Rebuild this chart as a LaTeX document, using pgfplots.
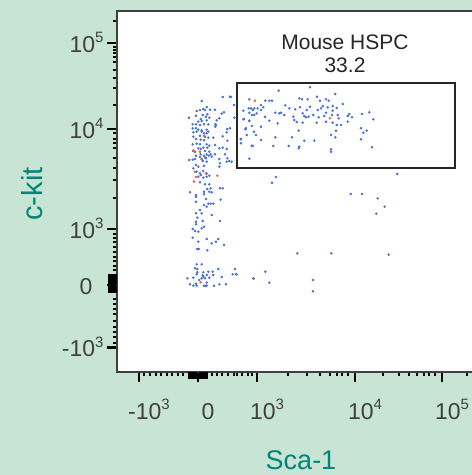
\documentclass[border=0pt]{standalone}
\usepackage{fontspec}
\setmainfont{Liberation Sans}
\usepackage{pgfplots}
\pgfplotsset{compat=1.18}
\definecolor{bg}{RGB}{200,228,212}
\definecolor{teal2}{RGB}{0,133,120}
\definecolor{tk}{RGB}{64,64,64}
\definecolor{dotb}{RGB}{70,115,215}
\definecolor{dotr}{RGB}{230,95,75}
\newcommand\tl[1]{\mbox{\fontsize{23}{23}\selectfont #1}}
\newcommand\tp[1]{10\raisebox{9.5pt}{\fontsize{15}{15}\selectfont #1}}
\begin{document}
\begin{tikzpicture}
\begin{axis}[
 x=1pt, y=1pt, y dir=reverse, disabledatascaling, anchor=origin, at={(0,0)},
 xmin=117, xmax=490, ymin=11, ymax=372,
 clip=false, axis on top,
 axis line style={draw=tk, line width=2.5pt},
 xtick pos=left, ytick pos=left, tick align=outside,
 major tick length=10pt, minor tick length=4pt,
 every major tick/.append style={black, line width=2.5pt},
 every minor tick/.append style={black, line width=1.3pt},
 xtick={139,198,257,355,442},
 xticklabels={\tl{-\tp{3}},\tl{0},\tl{\tp{3}},\tl{\tp{4}},\tl{\tp{5}}},
 minor xtick={144,150,156,161,167,172,178,183,212,217,222,228,234,237,242,248,252,288,307,320,330,337,342,348,383,399,409,417,424,429,435,467},
 extra x ticks={189,190.5,192,193.5,195,196.5,199.5,201,202.5,204,205.5,207},
 extra x tick labels={},
 extra x tick style={major tick length=7pt, every major tick/.append style={line width=1.1pt}},
 ytick={43,129,229,285,347.5},
 yticklabels={\tl{\tp{5}},\tl{\tp{4}},\tl{\tp{3}},\tl{0\hspace*{11pt}},\tl{-\tp{3}}},
 minor ytick={21,47,50,53,57,62,70,78,88,105,133,139,143,148,158,168,180,198,234,238,242,247,252,257,261,266,270,299,304,309,314,321,327,332,337,343},
 extra y ticks={275,276.5,278,279.5,281,282.5,284,286.5,288,289.5,291,292.5},
 extra y tick labels={},
 extra y tick style={major tick length=9pt, every major tick/.append style={line width=1.1pt}},
 tick label style={text=tk},
 xticklabel style={anchor=base, xshift=10pt, yshift=-37pt},
 yticklabel style={anchor=base east, yshift=-9pt},
]
\fill[bg] (axis cs:0,0) rectangle (axis cs:472,475);
\fill[white] (axis cs:117,11) rectangle (axis cs:490,372);
\coordinate (BL) at (axis cs:0,475);
\coordinate (TR) at (axis cs:472,0);
\addplot[only marks, color=dotb, mark=*, mark size=1.05pt, mark options={draw=none, fill=dotb}] coordinates {
(201.7,101) (222.7,97) (231,97) (206.7,107) (203.3,109) (200,110) (205,110) (210,109.7) (215,109.7) (196.7,111) (196,115.7) (202.7,115) (207.3,114.3) (206,116.7) (209.3,117.7) (200.7,119) (219.3,118.3) (221.7,113.7) (224,112.3) (189,117.7) (198.3,121.7) (201.7,121) (206.7,120.3) (216.7,120.3) (192.7,124.3) (196,124.3) (200,125) (204,124.3) (208.3,124.3) (215.3,124.3) (215.3,126.7) (192.7,128.3) (196,128.3) (198.3,129.7) (201.7,130.3) (206.7,129.7) (193.3,132.3) (196.7,131.7) (201.7,131.7) (204,133.3) (206.7,133.3) (208.3,131.7) (227.3,129) (230,128.3) (216,125) (226.7,132.3) (193.3,136.7) (200,135.7) (205,136.7) (208.3,137.7) (213.3,137.7) (222.7,136.3) (196,139) (200.7,139.7) (204,140.3) (192.7,144.3) (196.7,143.7) (200,144.3) (206.7,144.3) (209.3,145.7) (215,145) (219.3,148.3) (222.7,147.7) (226.7,149) (198.3,148.3) (200.7,149) (203.3,147.7) (207.3,147.7) (193.3,151) (195,151.7) (205,151) (209.3,151.7) (200.7,154.3) (206.7,154.3) (210.7,154.3) (215,154.3) (225,154.3) (227.3,158.3) (196,155.7) (200,157) (204,155.7) (205.3,157.7) (208.7,155.7) (211.7,156.7) (195,159) (201.7,159) (206,158.3) (189.3,160) (192.7,159.7) (202.7,161) (206.7,161.7) (219.3,159) (220,163.3) (226.7,161.7) (231.7,161.7) (219.3,166.7) (204,165.7) (196,165) (198.3,166.7) (193.3,168.3) (196.7,171.7) (200,173.3) (203.3,171) (206.7,173.7) (209.3,175.7) (200.7,175) (198.3,176.7) (203.3,177.7) (206.7,176.7) (200,182.3) (205,184.3) (209.3,184.3) (210.7,188.3) (207.3,189) (204,191.7) (209.3,191.7) (211.7,192.3) (220,188.3) (222.7,188.3) (190,192.3) (196,195) (196,196.7) (204,194.3) (206,199) (196,201.7) (220.7,199.7) (204,205) (208.3,203.7) (210.7,203.7) (213.3,203.7) (206.7,206.7) (200,210) (201.7,213.3) (196,213.3) (211.7,215) (197.3,217.7) (202.7,221) (196,221.7) (196,224.3) (204,226.7) (220,221) (192.7,229) (195,231) (198.3,231.7) (201.7,228.3) (192.7,237.7) (198.3,241.7) (206.7,239) (211.7,243.3) (216,241.7) (218.3,239) (224,245) (197.3,249) (198.7,249) (207.3,250.3) (196.7,264.3) (201.7,264.3) (195,268.3) (197.3,269) (197.3,272.3) (203.3,272.3) (208.3,271.7) (212.7,271.7) (213.3,275) (218.3,269) (206.7,275) (209.3,277.7) (203.3,276.7) (199.3,280) (201.7,278.3) (205,278.3) (187.3,278.3) (193.3,277.7) (221.7,277) (232.7,274.3) (236.7,274.3) (235,269) (253.3,278.3) (190,284.3) (193.3,285.7) (196,283.7) (204,285.7) (206.7,285.7) (214,285.7) (219.3,284.3) (226,284.3) (196.7,285.7) (206.7,282.7) (205.7,286) (196.7,274.3) (202.7,275.3)
(230,96.7) (234,105) (234.3,117.7) (229.3,161) (227.3,140.7)
(278.7,90.7) (310,87.3) (249.3,99.3) (265.3,100.7) (269.3,100.7) (272,100.7) (299.3,98.3) (302,99.3) (307.7,99.3) (317,96.7) (320,100.7) (326,99.3) (328.7,100.7) (335.3,94) (342.7,104) (243.3,110.7) (248.7,108.3) (251,108.3) (252.7,110) (254.3,108.3) (257.7,108.3) (261,110) (261,105) (263.3,107.3) (249.3,112.7) (252,115) (254.3,115) (256.7,113.3) (265,116.7) (275.3,112.7) (279.3,113.3) (281,112.7) (285.3,105.3) (289.3,108.3) (295.3,109.3) (300,107.3) (302.7,113.3) (306.7,110) (308.7,116.7) (310,106.7) (317.7,110) (321,108.3) (322.7,106) (327.7,107.3) (332.7,106) (336.7,108) (326,112.7) (332.7,110.7) (243.3,119.3) (249.3,120.7) (269.3,120.7) (277.7,123.3) (284.3,115) (293.3,116.7) (294.3,120) (296.7,122) (304.3,116) (306,117.3) (313.3,115) (318.7,117.3) (324.3,116) (332,115) (337.7,115) (338.7,118.3) (347.7,116) (349.3,114) (352,117.3) (362,114) (369.3,112.3) (373.3,119.3) (302.7,122.7) (316.7,122.7) (326,121.7) (332.7,122.7) (336.7,125) (341,125) (347.7,121.7) (245.3,129.3) (252,126) (261,126.7) (298.7,130.7) (336,130.7) (361,128.3) (363.3,132.7) (366.7,130.7) (246.7,135) (256,135) (241,139.3) (241,143.3) (261,140) (275.3,137.3) (292,137.3) (304.3,140.7) (314.3,140.7) (331,135) (335.3,137.3) (361,139.3) (252.7,146) (273.3,146) (288.7,146) (299.3,146.7) (298.7,148.3) (331,149.3) (331,151.7) (372,147.3) (249.3,158.7) (244,119) (249.3,121) (246,128.3) (254,131.7) (240.7,139) (251.7,145.7)
(276,177) (272,182.7) (397.3,174) (350.7,194) (362,194) (377.7,198.3) (384.7,206.7) (376.3,213.7) (297.3,253.3) (331.3,253.3) (388.7,254.7) (265.3,271.7) (253.7,278.7) (269.3,282.7) (313,280) (313,291.3) (236,274.3)
};
\addplot[only marks, color=dotr, mark=*, mark size=1.05pt, mark options={draw=none, fill=dotr}] coordinates {
(204,135.7) (193.3,150.5) (200,151.7) (201.7,159.3) (195,171.7) (206,173.3) (196,177) (194,181.5) (217.3,175.7) (200.7,282.3) (255,100.7) (330,118.3)
};
\draw[line width=2.5pt, black!85] (axis cs:237,83) rectangle (axis cs:455,168);
\node[font=\fontsize{21}{23}\selectfont, align=center, text=black!85] at (axis cs:345,54) {Mouse HSPC\\33.2};
\node[rotate=90, text=teal2, font=\fontsize{29}{29}\selectfont] at (axis cs:32,194) {c-kit};
\node[text=teal2, font=\fontsize{27}{27}\selectfont, anchor=base, inner sep=0pt] at (axis cs:301,469) {Sca-1};
\end{axis}
\pgfresetboundingbox
\path[use as bounding box] (BL) rectangle (TR);
\end{tikzpicture}
\end{document}
